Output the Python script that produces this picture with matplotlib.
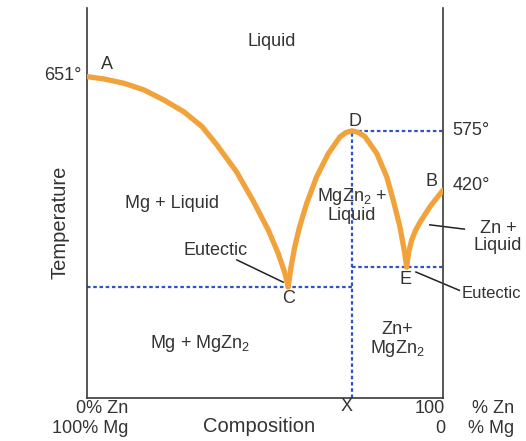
import matplotlib
matplotlib.use("Agg")
import matplotlib.pyplot as plt

plt.rcParams["font.family"] = ["Liberation Sans", "DejaVu Sans"]
plt.rcParams["mathtext.fontset"] = "custom"
plt.rcParams["mathtext.rm"] = "Liberation Sans"
plt.rcParams["mathtext.default"] = "regular"

# composition (% Zn, schematic) and relative height of the liquidus lines
mg_liquidus_x = [0, 4.8, 10.4, 16.0, 21.6, 27.2, 32.3, 36.4, 42.0, 46.7, 50.9, 53.7, 55.6, 56.5]
mg_liquidus_y = [82.4, 81.8, 80.7, 79.0, 76.4, 73.4, 69.6, 65.0, 58.0, 50.5, 43.1, 37.1, 32.0, 28.5]

compound_x = [56.5, 57.3, 58.3, 59.6, 61.7, 64.5, 67.8, 71.1, 72.8, 74.4, 76.2, 78.1,
              81.4, 84.2, 86.0, 87.9, 89.1, 89.8]
compound_y = [28.5, 33.5, 38.5, 43.5, 49.9, 56.7, 62.7, 67.0, 68.1, 68.5, 68.1, 67.0,
              62.7, 56.7, 50.8, 43.9, 37.9, 33.6]

zn_liquidus_x = [89.8, 90.4, 91.2, 92.3, 93.5, 96.3, 100]
zn_liquidus_y = [33.6, 37.5, 40.5, 43.0, 45.0, 49.0, 53.3]

eutectic_c = (56.5, 28.5)
compound_d = (74.4, 68.5)
eutectic_e = (89.8, 33.6)

temp_labels = ["651°", "575°", "420°"]

orange = "#f2a23a"
blue = "#2f55c4"
txt = "#333333"

fig = plt.figure(figsize=(5.26, 4.41), dpi=100)
ax = fig.add_axes([87 / 526, 43 / 441, 356 / 526, 390 / 441])
ax.set_xlim(0, 100)
ax.set_ylim(0, 100)
ax.set_xticks([])
ax.set_yticks([])
ax.spines["top"].set_visible(False)
for s in ["left", "right", "bottom"]:
    ax.spines[s].set_color("#3a3a3a")
    ax.spines[s].set_linewidth(1.2)

# dotted guide lines
dot = dict(color=blue, lw=1.6, linestyle=(0, (1.6, 1.2)), zorder=2)
ax.plot([0, compound_d[0]], [eutectic_c[1], eutectic_c[1]], **dot)
ax.plot([compound_d[0], compound_d[0]], [0, compound_d[1]], **dot)
ax.plot([compound_d[0], 100], [compound_d[1], compound_d[1]], **dot)
ax.plot([compound_d[0], 100], [eutectic_e[1], eutectic_e[1]], **dot)

# liquidus curves
line = dict(color=orange, lw=3.8, solid_joinstyle="round", solid_capstyle="round", zorder=3)
ax.plot(mg_liquidus_x, mg_liquidus_y, **line)
ax.plot(compound_x, compound_y, **line)
ax.plot(zn_liquidus_x, zn_liquidus_y, **line)

fs = 13
kw = dict(color=txt, fontsize=fs, clip_on=False)

ax.text(52, 91.3, "Liquid", ha="center", va="center", **kw)
ax.text(-1.4, 82.8, temp_labels[0], ha="right", va="center", **kw)
ax.text(5.6, 85.4, "A", ha="center", va="center", **kw)
ax.text(75.3, 70.8, "D", ha="center", va="center", **kw)
ax.text(102.5, 68.7, temp_labels[1], ha="left", va="center", **kw)
ax.text(96.9, 55.4, "B", ha="center", va="center", **kw)
ax.text(102.8, 54.4, temp_labels[2], ha="left", va="center", **kw)

ax.text(23.9, 50, "Mg + Liquid", ha="center", va="center", **kw)
ax.text(74.4, 49.5, "MgZn$_2$ +\nLiquid", ha="center", va="center", linespacing=0.95, **kw)
ax.text(115.4, 41.3, "Zn +\nLiquid", ha="center", va="center", linespacing=1.05, **kw)
ax.plot([96.3, 106.0], [44.4, 43.3], color="#222222", lw=1.1, clip_on=False)

ax.text(36, 37.9, "Eutectic", ha="center", va="center", **kw)
ax.plot([42.1, 55.1], [35.4, 29.7], color="#222222", lw=1.1)
ax.text(56.5, 25.6, "C", ha="center", va="center", **kw)
ax.text(89.6, 30.3, "E", ha="center", va="center", **kw)
ax.text(105.3, 26.9, "Eutectic", ha="left", va="center", color=txt, fontsize=12, clip_on=False)
ax.plot([92.4, 104.6], [32.3, 27.6], color="#222222", lw=1.1, clip_on=False)

ax.text(31.7, 14.1, "Mg + MgZn$_2$", ha="center", va="center", **kw)
ax.text(87.1, 14.9, "Zn+\nMgZn$_2$", ha="center", va="center", linespacing=1.05, **kw)

ax.text(11.5, -2.6, "0% Zn", ha="right", va="center", **kw)
ax.text(11.5, -7.7, "100% Mg", ha="right", va="center", **kw)
ax.text(48.3, -7.4, "Composition", ha="center", va="center", color=txt, fontsize=14.5, clip_on=False)
ax.text(73.0, -2.2, "X", ha="center", va="center", **kw)
ax.text(100.6, -2.6, "100", ha="right", va="center", **kw)
ax.text(108.1, -2.6, "% Zn", ha="left", va="center", **kw)
ax.text(100.6, -7.7, "0", ha="right", va="center", **kw)
ax.text(107.0, -7.7, "% Mg", ha="left", va="center", **kw)
ax.text(-7.6, 45, "Temperature", ha="center", va="center", rotation=90, color=txt,
        fontsize=14.5, clip_on=False)

fig.savefig("out.png", dpi=100)
